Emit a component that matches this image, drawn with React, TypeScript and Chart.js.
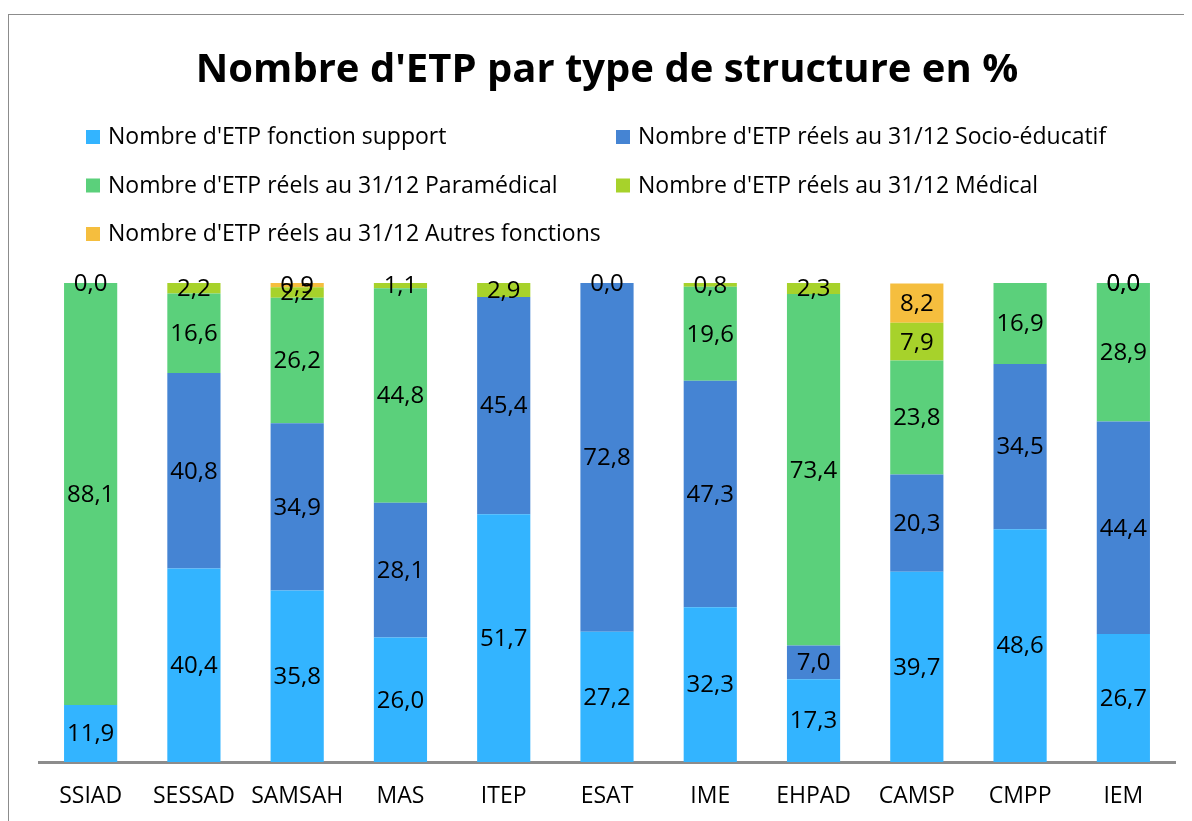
import React, { useEffect, useRef } from "react";
import { Chart, registerables } from "chart.js";

Chart.register(...registerables);

const TITLE = "Nombre d'ETP par type de structure en %";
const categories = ["SSIAD", "SESSAD", "SAMSAH", "MAS", "ITEP", "ESAT", "IME", "EHPAD", "CAMSP", "CMPP", "IEM"];
const seriesNames = [
  "Nombre d'ETP fonction support",
  "Nombre d'ETP réels au 31/12 Socio-éducatif",
  "Nombre d'ETP réels au 31/12 Paramédical",
  "Nombre d'ETP réels au 31/12 Médical",
  "Nombre d'ETP réels au 31/12 Autres fonctions",
];
const support = [11.9, 40.4, 35.8, 26.0, 51.7, 27.2, 32.3, 17.3, 39.7, 48.6, 26.7];
const socioEducatif = [null, 40.8, 34.9, 28.1, 45.4, 72.8, 47.3, 7.0, 20.3, 34.5, 44.4];
const paramedical = [88.1, 16.6, 26.2, 44.8, null, 0.0, 19.6, 73.4, 23.8, 16.9, 28.9];
const medical = [0.0, 2.2, 2.2, 1.1, 2.9, null, 0.8, 2.3, 7.9, null, 0.0];
const autres = [null, null, 0.9, null, null, null, null, null, 8.2, null, 0.0];
const colors = ["#33B4FF", "#4584D3", "#5BD07B", "#A7D22B", "#F5BE3E"];

const FONT = "'Open Sans', sans-serif";

const labelsPlugin = {
  id: "segLabels",
  afterDatasetsDraw(chart: any) {
    const ctx = chart.ctx;
    ctx.save();
    ctx.font = `24px ${FONT}`;
    ctx.fillStyle = "#000";
    ctx.textAlign = "center";
    ctx.textBaseline = "middle";
    chart.data.datasets.forEach((ds: any, di: number) => {
      const meta = chart.getDatasetMeta(di);
      meta.data.forEach((el: any, i: number) => {
        const v = ds.data[i];
        if (v === null || v === undefined) return;
        const y = (el.y + el.base) / 2;
        ctx.fillText(v.toFixed(1).replace(".", ","), el.x, y + 1);
      });
    });
    ctx.restore();
  },
};

const headerPlugin = {
  id: "header",
  afterDraw(chart: any) {
    const ctx = chart.ctx;
    ctx.save();
    ctx.fillStyle = "#000";
    ctx.font = `bold 40px ${FONT}`;
    ctx.textAlign = "center";
    ctx.textBaseline = "alphabetic";
    ctx.fillText(TITLE, 598, 67);
    ctx.font = `23px ${FONT}`;
    ctx.textAlign = "left";
    const cols = [77, 607];
    seriesNames.forEach((name, i) => {
      const col = i % 2;
      const row = Math.floor(i / 2);
      const base = 129 + row * 48.5;
      ctx.fillStyle = colors[i];
      ctx.fillRect(cols[col], base - 14, 14, 14);
      ctx.fillStyle = "#000";
      ctx.fillText(name, cols[col] + 22, base);
    });
    ctx.restore();
  },
};

export default function App() {
  const ref = useRef<HTMLCanvasElement | null>(null);
  useEffect(() => {
    document.documentElement.style.overflow = "hidden";
    const chart = new Chart(ref.current as HTMLCanvasElement, {
      type: "bar",
      data: {
        labels: categories,
        datasets: [support, socioEducatif, paramedical, medical, autres].map((d, i) => ({
          label: seriesNames[i],
          data: d as any,
          backgroundColor: colors[i],
          borderWidth: 0,
          barPercentage: 0.515,
          categoryPercentage: 1,
        })),
      },
      options: {
        animation: false,
        responsive: true,
        maintainAspectRatio: false,
        layout: { padding: { top: 268, left: 30, right: 44, bottom: 0 } },
        plugins: { legend: { display: false }, title: { display: false }, tooltip: { enabled: false } },
        scales: {
          x: {
            stacked: true,
            grid: { display: false, drawTicks: false },
            border: { display: true, color: "#8c8c8c", width: 3 },
            ticks: { color: "#000", font: { family: "'Open Sans', sans-serif", size: 23 }, padding: 21 },
            afterFit: (s: any) => {
              s.height = 83;
            },
          },
          y: { stacked: true, display: false, min: 0, max: 100 },
        },
      },
      plugins: [labelsPlugin, headerPlugin],
    });
    return () => chart.destroy();
  }, []);
  return (
    <div style={{ position: "relative", top: 6, width: 1210, height: 830, border: "1px solid #8c8c8c", background: "#fff" }}>
      <canvas ref={ref} />
    </div>
  );
}
